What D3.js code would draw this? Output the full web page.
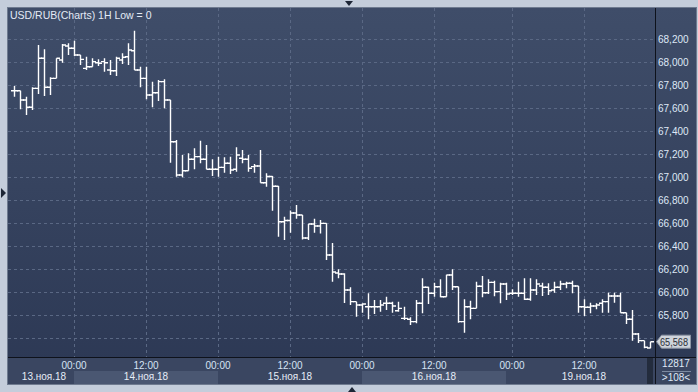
<!DOCTYPE html>
<html>
<head>
<meta charset="utf-8">
<script src="https://cdn.jsdelivr.net/npm/d3@7"></script>
<style>
  html, body { margin: 0; padding: 0; background: #c4cddb; }
  svg { display: block; }
  text { font-family: "Liberation Sans", Arial, sans-serif; }
</style>
</head>
<body>
<svg width="698" height="392"></svg>
<script>
// hourly OHLC bars, USD/RUB
var opens = [67.750,67.750,67.670,67.606,67.771,68.032,67.780,67.858,68.017,68.139,
  68.119,68.061,67.945,67.959,67.994,68.003,67.930,67.924,68.017,68.046,
  68.098,67.930,67.858,67.713,67.733,67.829,67.670,67.307,67.017,67.055,
  67.154,67.177,67.154,67.067,67.067,67.084,67.119,67.067,67.163,67.154,
  67.090,67.096,66.950,67.004,66.919,66.611,66.622,66.687,66.670,66.470,
  66.591,66.574,66.597,66.322,66.165,66.157,66.017,65.916,65.887,65.872,
  65.872,65.872,65.902,65.902,65.837,65.771,65.763,65.742,65.902,66.041,
  65.989,66.046,65.959,66.148,66.046,65.742,65.872,65.858,66.050,65.994,
  66.084,66.003,66.070,65.989,65.989,65.989,65.937,66.017,66.052,66.041,
  66.017,66.041,66.070,66.076,66.052,65.872,65.867,65.878,65.902,65.916,
  65.965,65.965,65.820,65.763,65.635,65.577,65.513];
var highs = [67.791,67.750,67.698,67.780,68.148,68.110,67.867,68.032,68.157,68.163,
  68.185,68.061,68.046,68.032,68.023,68.032,68.017,68.046,68.076,68.163,
  68.272,67.959,67.959,67.829,67.843,67.850,67.670,67.322,67.191,67.206,
  67.250,67.316,67.278,67.154,67.177,67.171,67.177,67.258,67.235,67.191,
  67.113,67.235,67.032,67.009,66.922,66.655,66.709,66.757,66.670,66.591,
  66.637,66.626,66.597,66.426,66.197,66.163,66.041,65.916,65.902,65.989,
  65.930,65.930,65.959,65.916,65.916,65.872,65.780,65.930,66.119,66.046,
  66.081,66.110,66.150,66.197,66.046,65.937,65.924,66.090,66.139,66.110,
  66.098,66.081,66.081,66.023,66.090,66.119,66.119,66.110,66.081,66.076,
  66.090,66.098,66.090,66.098,66.052,65.937,65.907,65.902,65.937,65.994,
  65.994,65.994,65.820,65.843,65.643,65.577,65.568];
var lows = [67.698,67.589,67.539,67.583,67.722,67.704,67.713,67.858,67.994,68.061,
  68.052,67.974,67.930,67.959,67.965,67.916,67.887,67.878,67.983,67.974,
  67.930,67.780,67.676,67.606,67.661,67.597,67.124,67.003,66.997,67.055,
  67.067,67.119,67.067,67.009,67.003,67.037,67.026,67.046,67.119,67.046,
  67.037,66.950,66.916,66.707,66.481,66.452,66.516,66.637,66.457,66.452,
  66.516,66.509,66.278,66.090,66.119,65.904,65.887,65.785,65.820,65.763,
  65.809,65.829,65.843,65.820,65.829,65.757,65.713,65.728,65.815,65.896,
  65.959,65.954,65.959,66.017,65.733,65.646,65.763,65.858,65.954,65.983,
  65.963,65.902,65.930,65.974,65.959,65.930,65.924,65.974,65.965,65.974,
  65.994,66.017,66.032,65.989,65.820,65.791,65.815,65.850,65.820,65.820,
  65.907,65.820,65.722,65.577,65.557,65.510,65.510];
var closes = [67.750,67.670,67.606,67.771,68.032,67.780,67.858,68.032,68.148,68.119,
  68.061,68.023,67.959,68.003,67.989,67.994,67.924,68.032,68.041,68.104,
  67.930,67.858,67.713,67.733,67.829,67.670,67.307,67.017,67.055,67.154,
  67.177,67.154,67.067,67.067,67.084,67.119,67.061,67.191,67.154,67.076,
  67.096,66.950,67.004,66.919,66.611,66.622,66.687,66.670,66.470,66.591,
  66.574,66.597,66.322,66.174,66.157,66.017,65.916,65.887,65.896,65.872,
  65.872,65.887,65.902,65.878,65.858,65.771,65.742,65.902,66.041,65.989,
  66.046,65.959,66.148,66.046,65.742,65.872,65.858,66.050,65.994,66.084,
  66.003,66.070,65.983,65.989,65.989,65.937,66.017,66.070,66.041,66.011,
  66.041,66.070,66.076,66.052,65.872,65.867,65.878,65.887,65.916,65.965,
  65.965,65.820,65.763,65.635,65.577,65.519,65.568];

var priceTicks = [65.6, 65.8, 66.0, 66.2, 66.4, 66.6, 66.8, 67.0, 67.2, 67.4, 67.6, 67.8, 68.0, 68.2];
// bar index of each time gridline and its label
var timeTickIdx = [10, 22, 34, 46, 58, 70, 83, 95];
var timeTickLabels = ["00:00", "12:00", "00:00", "12:00", "00:00", "12:00", "00:00", "12:00"];
// first bar index of each day
var dayStarts = [0, 10, 34, 58, 82];
var dayLabels = ["13.ноя.18", "14.ноя.18", "15.ноя.18", "16.ноя.18", "19.ноя.18"];
var lastPrice = 65.568;
var title = "USD/RUB(Charts) 1H Low = 0";
var barCount = 12817, visibleBars = 108;

var svg = d3.select("svg");
var L = 8, R = 655, T = 8, B = 357, PR = 696, PB = 384;

var x = d3.scaleLinear().domain([0, opens.length - 1]).range([14, 650]);
var y = d3.scaleLinear().domain([65.6, 68.2]).range([338, 39]);
var fmt = function (v) { return v.toFixed(3).replace(".", ","); };

var defs = svg.append("defs");
var grad = defs.append("linearGradient").attr("id", "bg").attr("x1", 0).attr("y1", 0).attr("x2", 0).attr("y2", 1);
grad.append("stop").attr("offset", "0%").attr("stop-color", "#3f4d69");
grad.append("stop").attr("offset", "100%").attr("stop-color", "#2c3854");
defs.append("clipPath").attr("id", "plotclip").append("rect")
  .attr("x", L).attr("y", T).attr("width", R - L).attr("height", B - T);

// panel
svg.append("rect").attr("x", L - 0.5).attr("y", T - 0.5).attr("width", PR - L + 1).attr("height", PB - T + 1)
  .attr("fill", "url(#bg)").attr("stroke", "#6f7b90");
svg.append("rect").attr("x", L).attr("y", B).attr("width", PR - L).attr("height", PB - B).attr("fill", "#3a4661");

// day bands in bottom axis
var dayEnds = dayStarts.slice(1).concat([opens.length + 1]);
svg.selectAll(".band").data(dayStarts).enter().filter(function (d, i) { return i % 2 == 1; })
  .append("rect").attr("class", "band")
  .attr("x", function (d) { return x(d); })
  .attr("width", function (d) { var i = dayStarts.indexOf(d); return x(dayEnds[i]) - x(d); })
  .attr("y", 371).attr("height", PB - 371)
  .attr("fill", "#4a5772");

// gridlines
svg.append("g").selectAll("line").data(priceTicks).enter().append("line")
  .attr("x1", L).attr("x2", R)
  .attr("y1", function (d) { return Math.round(y(d)) + 0.5; })
  .attr("y2", function (d) { return Math.round(y(d)) + 0.5; })
  .attr("stroke", "#5a6884").attr("stroke-dasharray", "3,3");
svg.append("g").selectAll("line").data(timeTickIdx).enter().append("line")
  .attr("y1", T).attr("y2", B)
  .attr("x1", function (d) { return x(d) + 0.5; })
  .attr("x2", function (d) { return x(d) + 0.5; })
  .attr("stroke", "#5a6884").attr("stroke-dasharray", "3,3");

// OHLC bars
svg.append("g").attr("clip-path", "url(#plotclip)")
  .selectAll("path").data(opens).enter().append("path")
  .attr("d", function (o, i) {
    var cx = x(i) + 0.5;
    return "M" + cx + "," + y(highs[i]) + "V" + y(lows[i]) +
      "M" + (cx - 3.5) + "," + y(o) + "H" + cx +
      "M" + cx + "," + y(closes[i]) + "H" + (cx + 3.5);
  })
  .attr("stroke", "#ffffff").attr("stroke-width", 1.4).attr("fill", "none");

// separators
svg.append("line").attr("x1", R + 0.5).attr("x2", R + 0.5).attr("y1", T).attr("y2", PB).attr("stroke", "#0e121b");
svg.append("line").attr("x1", L).attr("x2", PR).attr("y1", B + 0.5).attr("y2", B + 0.5).attr("stroke", "#0e121b");
svg.append("rect").attr("x", 647).attr("y", B + 1).attr("width", 6).attr("height", PB - B - 1).attr("fill", "#232c3d");

// right axis labels (the last-price marker hides the one under it)
var yp = y(lastPrice);
svg.append("g").selectAll("text")
  .data(priceTicks.filter(function (d) { return Math.abs(y(d) - yp) > 8; }))
  .enter().append("text")
  .attr("x", 658).attr("y", function (d) { return y(d) + 3.5; })
  .attr("fill", "#dfe8f6").attr("font-size", "10px").text(fmt);

// current price marker
svg.append("path")
  .attr("d", "M656.5," + yp + "L661.5," + (yp - 6.5) + "H690.5V" + (yp + 6.5) + "H661.5Z")
  .attr("fill", "#cfd4db").attr("stroke", "#8d96a5");
svg.append("text").attr("x", 660).attr("y", yp + 4).attr("fill", "#2a2f38").attr("font-size", "10px")
  .attr("textLength", 28).attr("lengthAdjust", "spacingAndGlyphs").text(fmt(lastPrice));

// time labels
svg.append("g").selectAll("text").data(timeTickIdx).enter().append("text")
  .attr("x", function (d) { return x(d); }).attr("y", 368.5).attr("text-anchor", "middle")
  .attr("fill", "#d6e3f4").attr("font-size", "10px")
  .text(function (d, i) { return timeTickLabels[i]; });

// date labels: at the day's 12:00 tick, else middle of the day's bars
svg.append("g").selectAll("text").data(dayStarts).enter().append("text")
  .attr("x", function (d, i) {
    var noon = timeTickIdx.filter(function (t, j) { return timeTickLabels[j] == "12:00" && t >= d && t < dayEnds[i]; });
    return noon.length ? x(noon[0]) : x((d + dayEnds[i]) / 2);
  })
  .attr("y", 380).attr("text-anchor", "middle")
  .attr("fill", "#e6edf7").attr("font-size", "10px")
  .text(function (d, i) { return dayLabels[i]; });

// corner box
svg.append("text").attr("x", 676).attr("y", 367).attr("text-anchor", "middle").attr("fill", "#dfe8f6")
  .attr("font-size", "10px").text(barCount);
svg.append("line").attr("x1", 662).attr("x2", 691).attr("y1", 371.5).attr("y2", 371.5).attr("stroke", "#7d8aa1");
svg.append("text").attr("x", 676).attr("y", 380.5).attr("text-anchor", "middle").attr("fill", "#dfe8f6")
  .attr("font-size", "10px").text(">" + visibleBars + "<");

// title
svg.append("text").attr("x", 10).attr("y", 18.5).attr("fill", "#e3eaf5").attr("font-size", "10.5px").text(title);

// small splitter arrows on the frame
svg.append("path").attr("d", "M345,1L353,1L349,6Z").attr("fill", "#1d2636");
svg.append("path").attr("d", "M1,188L1,198L6,193Z").attr("fill", "#1d2636");
svg.append("path").attr("d", "M348,392L356,392L352,387Z").attr("fill", "#1d2636");
</script>
</body>
</html>
